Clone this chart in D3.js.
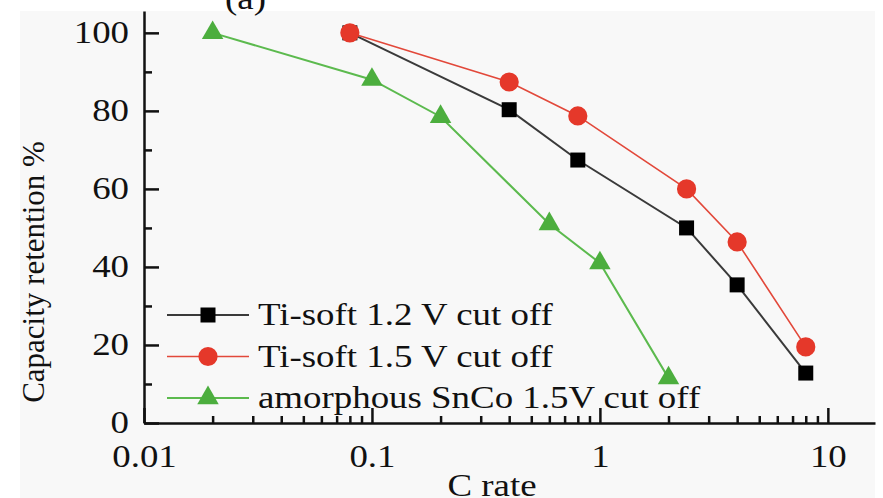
<!DOCTYPE html>
<html>
<head>
<meta charset="utf-8">
<script src="https://cdn.jsdelivr.net/npm/d3@7"></script>
<style>
  body { margin: 0; background: #fff; }
  svg { display: block; }
</style>
</head>
<body>
<div id="chart"></div>
<script>
// data
const cRateTi = [0.08, 0.4, 0.8, 2.4, 4, 8];
const tiSoft12 = [100, 80.3, 67.4, 50, 35.4, 12.8];
const tiSoft15 = [100, 87.4, 78.7, 60, 46.4, 19.5];
const cRateSnCo = [0.02, 0.1, 0.2, 0.6, 1, 2];
const snCo15 = [100, 88, 78.5, 51, 41, 11.5];

const seriesNames = ["Ti-soft 1.2 V cut off", "Ti-soft 1.5 V cut off", "amorphous SnCo 1.5V cut off"];
const xTicks = [0.01, 0.1, 1, 10];
const yTicks = [0, 20, 40, 60, 80, 100];
const yMinorTicks = [10, 30, 50, 70, 90];

const width = 883, height = 498;
const margin = {left: 144, right: 8, top: 11, bottom: 75};
const FONT = "'Liberation Serif', 'Times New Roman', Tinos, 'DejaVu Serif', serif";
const fs = 31;
const sx = 1.19; // the original picture is stretched sideways

const svg = d3.select("#chart")
  .append("svg")
  .attr("width", width)
  .attr("height", height);

// light grey photo background
svg.append("rect")
  .attr("x", 20).attr("y", margin.top)
  .attr("width", 855).attr("height", height - margin.top)
  .attr("fill", "#f8f8f8");

const xScale = d3.scaleLog()
  .domain([0.01, 16.1])
  .range([margin.left, width - margin.right]);

const yScale = d3.scaleLinear()
  .domain([0, 105.6])
  .range([height - margin.bottom, margin.top]);

// minor x ticks 2..9 per decade
const xMinor = [];
[0.01, 0.1, 1, 10].forEach(d => {
  for (let k = 2; k <= 9; k++) {
    const v = d * k;
    if (v < 16) xMinor.push(v);
  }
});

// y axis
svg.append("g")
  .attr("class", "yaxis")
  .attr("transform", `translate(${margin.left},0)`)
  .call(d3.axisLeft(yScale).tickValues(yTicks).tickSizeInner(-15).tickSizeOuter(0).tickPadding(15));
svg.append("g")
  .attr("transform", `translate(${margin.left},0)`)
  .call(d3.axisLeft(yScale).tickValues(yMinorTicks).tickSizeInner(-8).tickSizeOuter(0).tickFormat(""))
  .call(g => g.select(".domain").remove());

// x axis
svg.append("g")
  .attr("class", "xaxis")
  .attr("transform", `translate(0,${height - margin.bottom})`)
  .call(d3.axisBottom(xScale).tickValues(xTicks).tickSizeInner(-15).tickSizeOuter(0).tickPadding(22)
    .tickFormat(d3.format("~g")));
svg.append("g")
  .attr("transform", `translate(0,${height - margin.bottom})`)
  .call(d3.axisBottom(xScale).tickValues(xMinor).tickSizeInner(-7).tickSizeOuter(0).tickFormat(""))
  .call(g => g.select(".domain").remove());

svg.selectAll(".domain, .tick line")
  .attr("stroke", "#111")
  .attr("stroke-width", 2.5);
svg.selectAll(".tick text")
  .style("font-family", FONT)
  .style("font-size", fs + "px")
  .attr("fill", "#111");
// stretch tick labels sideways
svg.selectAll(".yaxis .tick text")
  .attr("x", -15 / sx)
  .attr("transform", `scale(${sx},1)`);
svg.selectAll(".xaxis .tick text")
  .attr("transform", `scale(${sx},1)`);

function label(x, y, str, anchor, rotate) {
  return svg.append("text")
    .attr("transform", `translate(${x},${y})` + (rotate ? " rotate(-90) scale(1,1)" : ` scale(${sx},1)`))
    .attr("text-anchor", anchor)
    .style("font-family", FONT)
    .style("font-size", fs + "px")
    .attr("fill", "#111")
    .text(str);
}

// axis titles
label(44, 272, "Capacity retention %", "middle", true);
label(492, 496, "C rate", "middle", false);
// panel label, cut off at the top
label(225, 9, "(a)", "start", false);

const series = [
  {name: seriesNames[0], xs: cRateTi, ys: tiSoft12, line: "#3a3a3a", fill: "#000", shape: d3.symbolSquare, size: 225, lw: 2},
  {name: seriesNames[1], xs: cRateTi, ys: tiSoft15, line: "#e2483a", fill: "#e5382a", shape: d3.symbolCircle, size: 290, lw: 1.6},
  {name: seriesNames[2], xs: cRateSnCo, ys: snCo15, line: "#5cba4e", fill: "#4cae3e", shape: d3.symbolTriangle, size: 200, lw: 2}
];

const line = d3.line()
  .x(d => xScale(d[0]))
  .y(d => yScale(d[1]));

series.forEach(s => {
  const pts = s.xs.map((x, i) => [x, s.ys[i]]);
  svg.append("path")
    .datum(pts)
    .attr("fill", "none")
    .attr("stroke", s.line)
    .attr("stroke-width", s.lw)
    .attr("d", line);
  svg.selectAll(null)
    .data(pts)
    .enter()
    .append("path")
      .attr("transform", d => `translate(${xScale(d[0])},${yScale(d[1])})`)
      .attr("d", d3.symbol().type(s.shape).size(s.size))
      .attr("fill", s.fill);
});

// legend
series.forEach((s, i) => {
  const y = 315 + i * 41.5;
  svg.append("line")
    .attr("x1", 167).attr("x2", 249)
    .attr("y1", y).attr("y2", y)
    .attr("stroke", s.line)
    .attr("stroke-width", s.lw);
  svg.append("path")
    .attr("transform", `translate(208,${y})`)
    .attr("d", d3.symbol().type(s.shape).size(s.size))
    .attr("fill", s.fill);
  label(258, y + 10, s.name, "start", false);
});
</script>
</body>
</html>
